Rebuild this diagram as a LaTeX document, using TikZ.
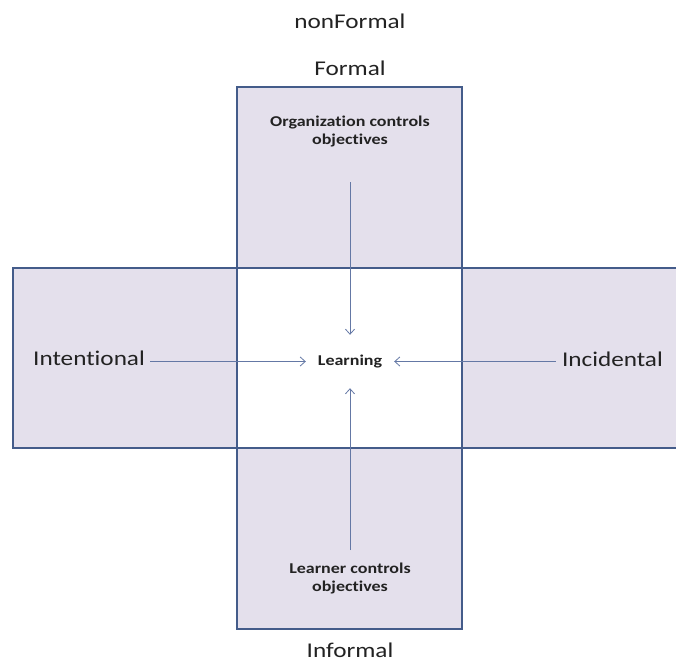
\documentclass[tikz,border=0pt]{standalone}
\usepackage{fontspec}
\setmainfont[FakeStretch=1.2,Ligatures=NoCommon]{Carlito}
\usetikzlibrary{arrows.meta}
\definecolor{cellfill}{RGB}{228,224,236}
\definecolor{cellline}{RGB}{68,92,138}
\definecolor{arrline}{RGB}{100,120,165}
\definecolor{txt}{RGB}{34,34,34}
\tikzset{
  cell/.style={draw=cellline, line width=2pt, fill=cellfill, inner sep=0pt},
  bigtext/.style={text=txt, font=\fontsize{21}{25}\selectfont, inner sep=0pt},
  smalltext/.style={text=txt, font=\bfseries\fontsize{15}{18}\selectfont, align=center, inner sep=0pt},
  arr/.style={draw=arrline, line width=0.8pt, -{Straight Barb[length=5pt,width=9pt]}}
}
\begin{document}
\begin{tikzpicture}[x=1pt,y=-1pt]
\useasboundingbox (0,0) rectangle (676,662);
\clip (0,0) rectangle (676,662);
% boxes
\node[cell, minimum width=225pt, minimum height=181pt] (topbox) at (349.5,177.5) {};
\node[cell, minimum width=224pt, minimum height=180pt] (leftbox) at (125,358) {};
\node[cell, minimum width=228pt, minimum height=180pt] (rightbox) at (576,358) {};
\node[cell, minimum width=225pt, minimum height=181pt] (botbox) at (349.5,538.5) {};
\node[draw=cellline, line width=2pt, fill=white, minimum width=225pt, minimum height=180pt] (centerbox) at (349.5,358) {};
% outer labels
\node[bigtext, anchor=base] (nonformal) at (350,28) {nonFormal};
\node[bigtext, anchor=base] (formal) at (350,75) {Formal};
\node[bigtext, anchor=base] (informal) at (350,657) {Informal};
% inner labels
\node[smalltext] (org) at (350,131) {Organization controls\\objectives};
\node[smalltext] (lrn) at (350,578) {Learner controls\\objectives};
\node[bigtext, anchor=base west, inner xsep=5pt] (intent) at (28,365) {Intentional};
\node[bigtext, anchor=base east, inner xsep=6pt] (incid) at (669,366) {Incidental};
\node[smalltext, minimum width=88pt, minimum height=53pt] (learning) at (350,361.5) {Learning};
% arrow start points
\coordinate (otop) at (350,182);
\coordinate (obot) at (350,550);
% arrows
\draw[arr] (otop) -- (learning.north);
\draw[arr] (obot) -- (learning.south);
\draw[arr] (intent.east |- learning.west) -- (learning.west);
\draw[arr] (incid.west |- learning.east) -- (learning.east);
\end{tikzpicture}
\end{document}
